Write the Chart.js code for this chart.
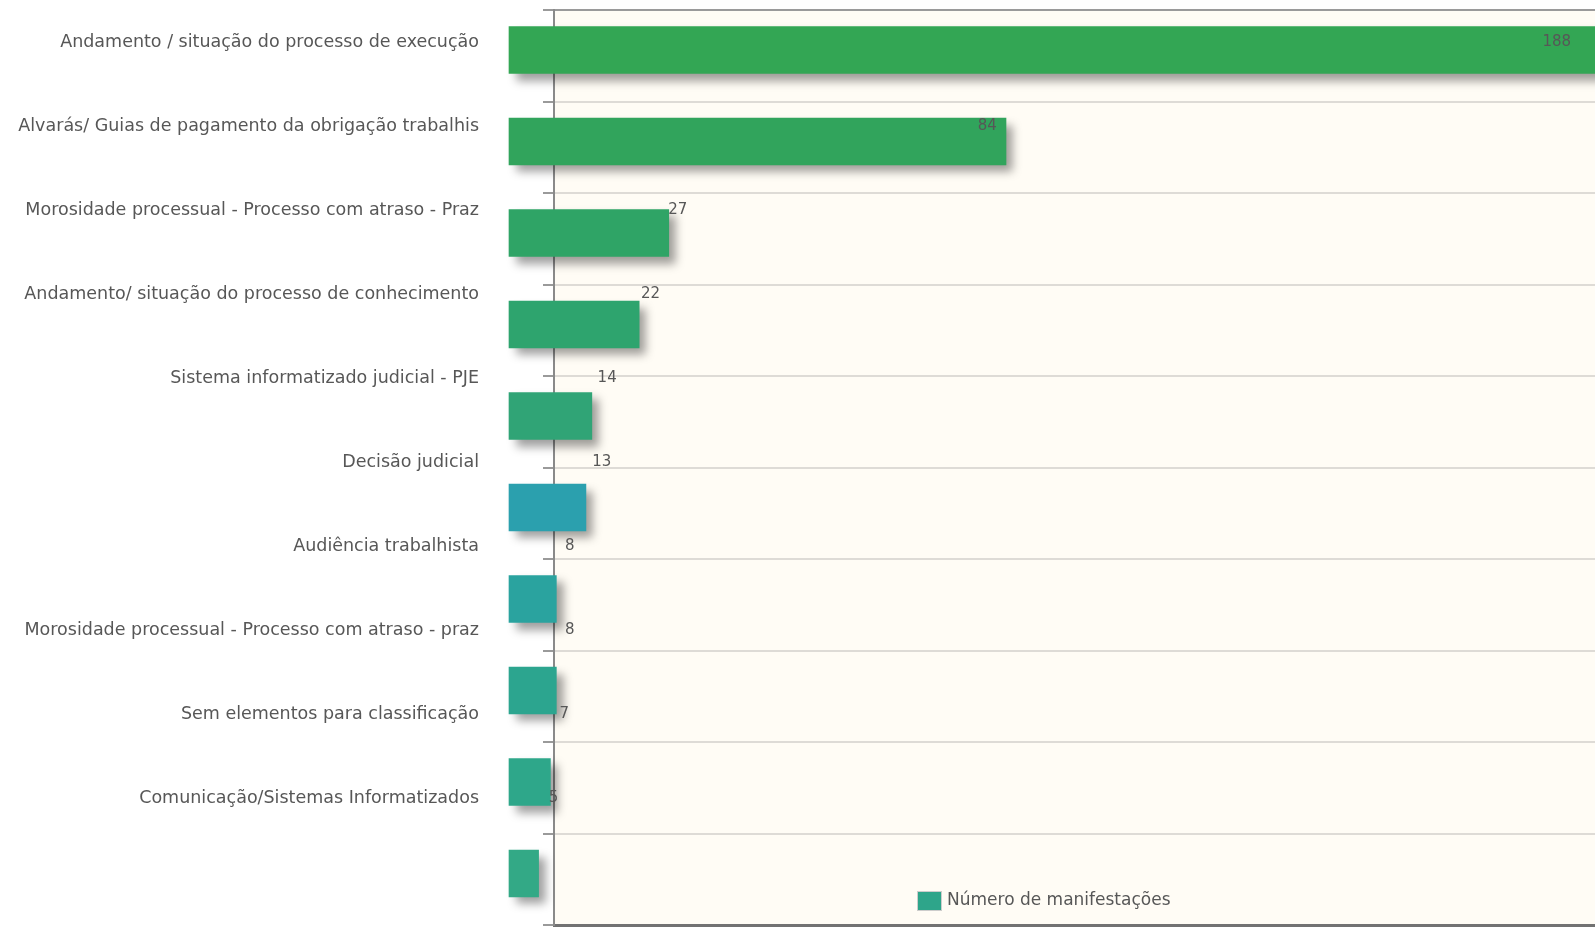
<!DOCTYPE html>
<html>
<head>
<meta charset="utf-8">
<script src="https://cdn.jsdelivr.net/npm/chart.js@4.4.1/dist/chart.umd.min.js"></script>
<style>
html, body { margin: 0; padding: 0; background: #ffffff; overflow: hidden; }
#wrap { position: absolute; left: 0; top: 0; width: 1700px; height: 929px; }
</style>
</head>
<body>
<div id="wrap"><canvas id="c"></canvas></div>
<script>
// ---- data ----
const categories = [
  'Andamento / situação do processo de execução',
  'Alvarás/ Guias de pagamento da obrigação trabalhis',
  'Morosidade processual - Processo com atraso - Praz',
  'Andamento/ situação do processo de conhecimento',
  'Sistema informatizado judicial - PJE',
  'Decisão judicial',
  'Audiência trabalhista',
  'Morosidade processual - Processo com atraso - praz',
  'Sem elementos para classificação',
  'Comunicação/Sistemas Informatizados'
];
const values = [188, 84, 27, 22, 14, 13, 8, 8, 7, 5];
const seriesName = 'Número de manifestações';

// ---- styles ----
const barColors = ['#33a654', '#31a45c', '#2fa466', '#2ea46e', '#30a476',
                   '#2ba0ae', '#2aa39f', '#2ca58f', '#2ea78a', '#33a986'];
const legendColor = '#2ea58a';
const FONT = "'DejaVu Sans', sans-serif";
const TEXT = '#575757';

const decor = {
  id: 'decor',
  beforeDraw(chart) {
    const { ctx, chartArea: a } = chart;
    ctx.save();
    ctx.fillStyle = '#fffcf5';
    ctx.fillRect(a.left, a.top, a.right - a.left, a.bottom - a.top);
    ctx.restore();
  },
  beforeDatasetsDraw(chart) {
    const ctx = chart.ctx;
    ctx.save();
    ctx.shadowColor = 'rgba(0,0,0,0.38)';
    ctx.shadowBlur = 9;
    ctx.shadowOffsetX = 7;
    ctx.shadowOffsetY = 7;
  },
  afterDatasetsDraw(chart) {
    const ctx = chart.ctx;
    ctx.restore();
    const xl = chart.scales.xl, yl = chart.scales.yl;
    ctx.save();
    ctx.font = '15px ' + FONT;
    ctx.fillStyle = TEXT;
    ctx.textAlign = 'left';
    ctx.textBaseline = 'middle';
    values.forEach((v, i) => {
      ctx.fillText(String(v), xl.getPixelForValue(v), yl.getPixelForValue(i));
    });
    // legend inside the plot
    const lx = 918, ly = 892;
    ctx.fillStyle = legendColor;
    ctx.fillRect(lx, ly, 23, 18);
    ctx.strokeStyle = 'rgba(200,200,200,0.9)';
    ctx.lineWidth = 1;
    ctx.strokeRect(lx - 0.5, ly - 0.5, 24, 19);
    ctx.font = '17px ' + FONT;
    ctx.fillStyle = TEXT;
    ctx.fillText(seriesName, lx + 29, ly + 9);
    ctx.restore();
  }
};

new Chart(document.getElementById('c'), {
  type: 'bar',
  data: {
    datasets: [{
      label: seriesName,
      data: values.map((v, i) => ({ x: v, y: i })),
      backgroundColor: barColors,
      borderWidth: 0,
      barThickness: 47,
      clip: false,
      xAxisID: 'x',
      yAxisID: 'y'
    }]
  },
  options: {
    indexAxis: 'y',
    responsive: true,
    maintainAspectRatio: false,
    animation: false,
    layout: { padding: { left: 0, top: 10, right: 0, bottom: 4 } },
    plugins: { legend: { display: false }, tooltip: { enabled: false } },
    scales: {
      x: {
        type: 'linear', position: 'bottom', min: 7.605, max: 201.3, offset: false,
        ticks: { display: false }, grid: { display: false, drawTicks: false },
        border: { display: true, color: '#727272', width: 3 }
      },
      xt: {
        type: 'linear', position: 'top', min: 0, max: 1,
        ticks: { display: false }, grid: { display: false, drawTicks: false },
        border: { display: true, color: '#9a9a9a', width: 2 }
      },
      xl: {
        type: 'linear', position: 'bottom', display: false, min: 5.967, max: 217.0, offset: false,
        grid: { drawTicks: false }
      },
      y: {
        type: 'linear', position: 'left', display: false, reverse: true, offset: false,
        min: -0.437, max: 9.563, grid: { offset: false }
      },
      yg: {
        type: 'linear', position: 'left', weight: 0, reverse: true, offset: false,
        min: 0, max: 10,
        ticks: { display: false, stepSize: 1 },
        grid: { offset: false, color: '#dedbd6', lineWidth: 2, tickLength: 11, tickColor: '#9a9a9a', tickWidth: 2 },
        border: { display: true, color: '#8a8a8a', width: 2 },
        afterFit: (axis) => { axis.paddingTop = 0; axis.paddingBottom = 0; }
      },
      yl: {
        type: 'linear', position: 'left', weight: 10, reverse: true, offset: false,
        min: -0.381, max: 10.512,
        afterBuildTicks: (axis) => { axis.ticks = categories.map((_, i) => ({ value: i })); },
        afterFit: (axis) => { axis.width = 543; axis.paddingTop = 0; axis.paddingBottom = 0; },
        ticks: {
          autoSkip: false, padding: 64, color: TEXT,
          font: { family: FONT, size: 17.5 },
          callback: (v) => categories[v] !== undefined ? categories[v] : ''
        },
        grid: { display: false, drawTicks: false, offset: false },
        border: { display: false }
      }
    }
  },
  plugins: [decor]
});
</script>
</body>
</html>
